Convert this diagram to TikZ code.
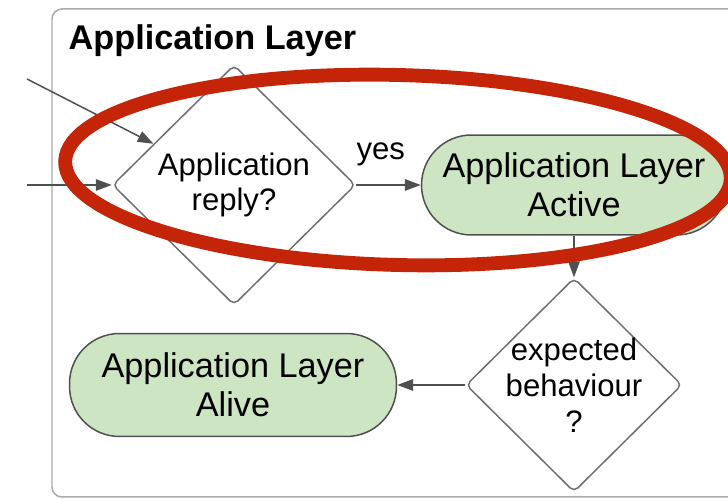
\documentclass[tikz,border=0pt]{standalone}
\usepackage{fontspec}
\setmainfont{Liberation Sans}
\usetikzlibrary{shapes.geometric,arrows.meta}
\definecolor{boxgreen}{RGB}{205,229,195}
\definecolor{edgegray}{RGB}{80,80,80}
\definecolor{lozgray}{RGB}{110,110,110}
\definecolor{framegray}{RGB}{170,170,170}
\definecolor{markred}{RGB}{196,36,8}

\begin{document}
\begin{tikzpicture}[x=0.02cm,y=-0.02cm,line width=0.85pt,>={Triangle[length=9pt,width=6.5pt]},
  state/.style={draw=edgegray,fill=boxgreen,rounded corners=1cm,minimum height=2cm,align=center,font=\fontsize{19.5}{22}\selectfont},
  decision/.style={diamond,draw=lozgray,rounded corners=3pt,inner sep=0pt},
  txt/.style={align=center,inner sep=0pt,font=\fontsize{17.7}{20.4}\selectfont},
  flow/.style={draw=edgegray,->}]
\useasboundingbox (0,0) rectangle (728,499);
\clip (0,0) rectangle (728,499);
% layer frame
\draw[framegray,rounded corners=0.2cm] (52,9) rectangle (780,497);
\node[anchor=base west,inner sep=0pt,font=\bfseries\fontsize{19.5}{22}\selectfont] (title) at (68,50) {Application Layer};
% states and decisions
\node[decision,minimum width=4.86cm,minimum height=4.8cm,label={[txt]center:Application\\reply?}] (reply) at (234,185) {};
\node[state,minimum width=6.1cm] (active) at (574,185) {Application Layer\\Active};
\node[decision,minimum width=4.32cm,minimum height=4.28cm,label={[txt]center:expected\\behaviour\\?}] (check) at (574,385) {};
\node[state,minimum width=6.54cm,minimum height=2.06cm] (alive) at (233,385) {Application Layer\\Alive};
\coordinate (in1) at (27,79);
\coordinate (in2) at (27,185);
% connectors
\draw[flow] (in1) -- (reply);
\draw[flow] (in2) -- (reply);
\draw[flow] (reply) -- node[txt,above=0.36cm,pos=0.38]{yes} (active);
\draw[flow] (active) -- (check);
\draw[flow] (check) -- (alive);
% red mark
\node[ellipse,draw=markred,line width=7.9pt,minimum width=13.32cm,minimum height=3.8cm,rotate=-1.5] (ring) at (398,170) {};
\end{tikzpicture}
\end{document}
